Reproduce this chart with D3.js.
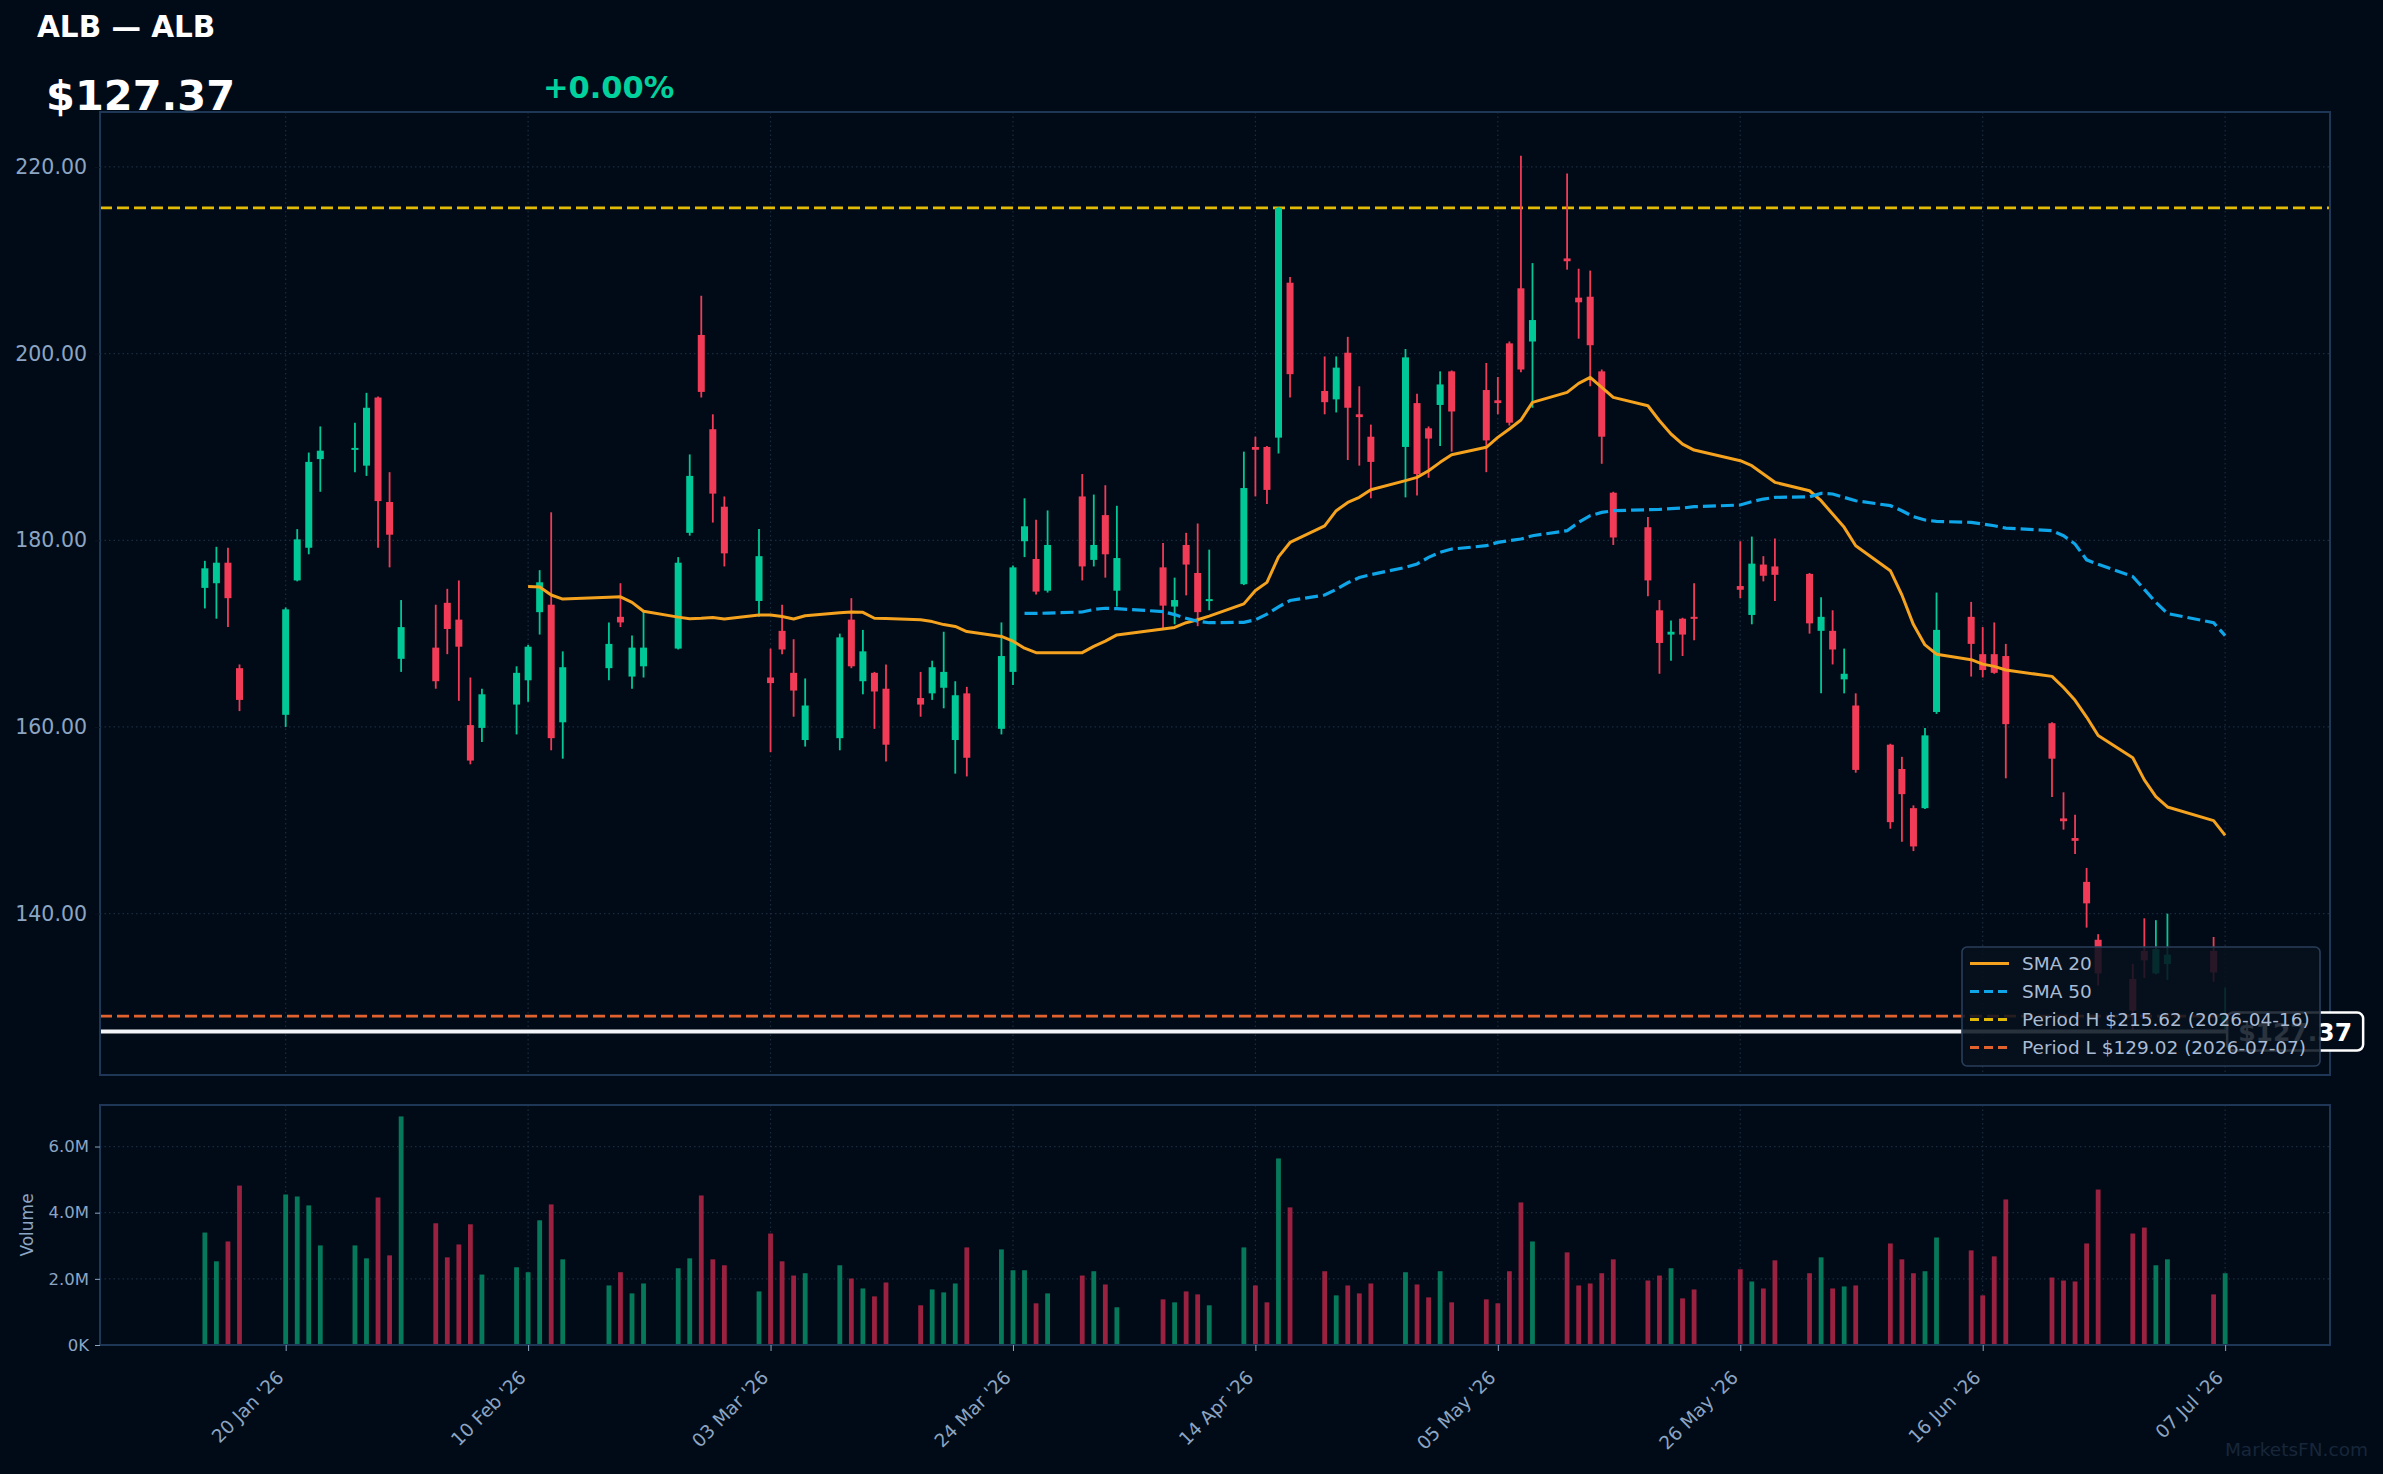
<!DOCTYPE html>
<html>
<head>
<meta charset="utf-8">
<script src="https://cdnjs.cloudflare.com/ajax/libs/d3/7.8.5/d3.min.js"></script>
<style>
  body { margin: 0; background: #010b17; }
  svg { display: block; font-family: 'DejaVu Sans', sans-serif; }
</style>
</head>
<body>
<svg id="chart"></svg>
<script>
const dates = [
  '2026-01-13','2026-01-14','2026-01-15','2026-01-16',
  '2026-01-20','2026-01-21','2026-01-22','2026-01-23',
  '2026-01-26','2026-01-27','2026-01-28','2026-01-29','2026-01-30',
  '2026-02-02','2026-02-03','2026-02-04','2026-02-05','2026-02-06',
  '2026-02-09','2026-02-10','2026-02-11','2026-02-12','2026-02-13',
  '2026-02-17','2026-02-18','2026-02-19','2026-02-20',
  '2026-02-23','2026-02-24','2026-02-25','2026-02-26','2026-02-27',
  '2026-03-02','2026-03-03','2026-03-04','2026-03-05','2026-03-06',
  '2026-03-09','2026-03-10','2026-03-11','2026-03-12','2026-03-13',
  '2026-03-16','2026-03-17','2026-03-18','2026-03-19','2026-03-20',
  '2026-03-23','2026-03-24','2026-03-25','2026-03-26','2026-03-27',
  '2026-03-30','2026-03-31',
  '2026-04-01','2026-04-02',
  '2026-04-06','2026-04-07','2026-04-08','2026-04-09','2026-04-10',
  '2026-04-13','2026-04-14','2026-04-15','2026-04-16','2026-04-17',
  '2026-04-20','2026-04-21','2026-04-22','2026-04-23','2026-04-24',
  '2026-04-27','2026-04-28','2026-04-29','2026-04-30',
  '2026-05-01',
  '2026-05-04','2026-05-05','2026-05-06','2026-05-07','2026-05-08',
  '2026-05-11','2026-05-12','2026-05-13','2026-05-14','2026-05-15',
  '2026-05-18','2026-05-19','2026-05-20','2026-05-21','2026-05-22',
  '2026-05-26','2026-05-27','2026-05-28','2026-05-29',
  '2026-06-01','2026-06-02','2026-06-03','2026-06-04','2026-06-05',
  '2026-06-08','2026-06-09','2026-06-10','2026-06-11','2026-06-12',
  '2026-06-15','2026-06-16','2026-06-17','2026-06-18',
  '2026-06-22','2026-06-23','2026-06-24','2026-06-25','2026-06-26',
  '2026-06-29','2026-06-30',
  '2026-07-01','2026-07-02','2026-07-06','2026-07-07'
];

const opens = [
  174.9,175.4,177.6,166.3,
  161.3,175.7,179.2,188.7,
  189.8,188.0,195.3,184.1,167.3,
  168.5,173.3,171.5,160.2,159.9,
  162.4,165.0,172.3,173.1,160.5,
  166.3,171.8,165.4,166.5,
  168.4,180.8,202.0,191.9,183.6,
  173.5,165.3,170.3,165.8,158.6,
  158.8,171.5,164.9,165.8,164.1,
  163.1,163.6,164.2,158.6,163.6,
  159.8,165.9,179.9,178.0,174.6,
  184.7,177.9,
  182.7,174.6,
  177.1,172.9,179.5,176.5,173.5,
  175.3,190.0,190.0,191.0,207.6,
  196.0,195.1,200.1,193.5,191.1,
  190.0,194.7,192.0,194.5,
  198.1,
  196.1,195.0,201.1,207.0,201.3,
  210.2,206.0,206.1,198.1,185.1,
  181.4,172.5,169.9,171.6,171.8,
  175.1,172.0,177.4,177.2,
  176.4,170.3,170.3,165.1,162.3,
  158.1,155.5,151.3,151.3,161.6,
  171.8,167.8,167.8,167.6,
  160.4,150.2,148.1,143.4,137.2,
  133.0,136.0,
  133.6,134.6,136.0,128.1
];

const highs = [
  177.8,179.3,179.2,166.7,
  172.8,181.2,189.4,192.2,
  192.6,195.8,195.4,187.3,173.6,
  173.1,174.8,175.7,165.3,164.1,
  166.5,168.8,176.8,183.0,168.1,
  171.2,175.4,169.8,172.4,
  178.2,189.2,206.2,193.5,184.7,
  181.2,168.4,173.1,169.4,165.2,
  170.0,173.8,170.4,165.9,166.7,
  165.9,167.1,170.2,164.9,164.3,
  171.2,177.3,184.5,182.2,183.2,
  187.1,184.9,
  185.9,183.7,
  179.7,176.0,180.8,181.8,179.0,
  189.5,191.1,190.1,215.7,208.2,
  199.7,199.7,201.8,196.5,192.4,
  200.5,195.7,192.2,198.1,
  198.2,
  199.0,197.5,201.3,221.2,209.7,
  219.3,209.1,208.9,198.3,185.2,
  182.5,173.6,171.4,171.7,175.4,
  179.9,180.4,178.3,180.2,
  176.5,173.9,172.5,168.4,163.6,
  158.2,156.8,151.6,159.9,174.4,
  173.4,170.7,171.2,168.9,
  160.5,153.0,150.6,144.9,137.8,
  134.6,139.5,
  139.3,140.0,137.5,132.1
];

const lows = [
  172.7,171.6,170.7,161.7,
  160.0,175.6,178.5,185.2,
  187.3,186.9,179.2,177.1,165.9,
  164.1,167.8,162.8,156.0,158.4,
  159.2,162.7,169.9,157.5,156.6,
  165.0,170.7,164.1,165.3,
  168.3,180.5,195.3,181.9,177.2,
  171.8,157.3,167.8,161.1,157.9,
  157.5,166.3,163.5,159.8,156.3,
  161.1,162.9,162.0,155.0,154.7,
  159.2,164.5,178.2,174.2,174.4,
  175.7,177.2,
  176.0,172.9,
  170.6,171.0,174.1,170.8,172.5,
  175.2,184.7,183.9,189.3,195.3,
  193.5,193.7,188.6,188.0,184.5,
  184.6,184.8,186.7,190.1,
  189.5,
  187.3,193.5,192.3,198.0,194.2,
  209.0,201.6,196.5,188.2,179.5,
  174.0,165.7,167.1,167.6,169.3,
  173.8,171.0,175.6,173.5,
  170.0,163.6,166.7,163.6,155.1,
  149.1,147.7,146.7,151.2,161.4,
  165.4,165.3,165.7,154.5,
  152.5,149.0,146.4,138.5,132.3,
  127.5,133.1,
  133.5,132.9,132.7,127.4
];

const closes = [
  177.0,177.6,173.8,162.9,
  172.6,180.1,188.4,189.6,
  189.9,194.2,184.2,180.6,170.7,
  164.9,170.5,168.6,156.4,163.5,
  165.8,168.6,175.5,158.8,166.4,
  168.9,171.2,168.5,168.5,
  177.6,186.9,195.9,185.0,178.6,
  178.3,164.7,168.3,163.9,162.3,
  169.6,166.5,168.1,163.8,158.1,
  162.4,166.4,165.9,163.4,156.7,
  167.6,177.1,181.5,174.5,179.5,
  177.2,179.5,
  178.5,178.1,
  173.0,173.6,177.4,172.3,173.7,
  185.6,189.7,185.4,215.62,197.8,
  194.8,198.5,194.2,193.2,188.4,
  199.6,187.1,190.9,196.7,
  193.8,
  190.7,194.7,192.6,198.3,203.6,
  209.9,205.5,200.9,191.1,180.3,
  175.7,169.0,170.2,169.9,171.6,
  174.7,177.5,176.2,176.3,
  171.1,171.8,168.3,165.7,155.4,
  149.8,152.8,147.2,159.1,170.4,
  168.9,166.1,165.8,160.3,
  156.6,149.9,147.8,141.1,133.6,
  129.6,135.0,
  136.2,135.6,133.7,129.02
];

// volume in millions
const volumes = [
  3.40,2.53,3.13,4.82,
  4.55,4.49,4.22,3.01,
  3.01,2.62,4.46,2.71,6.91,
  3.68,2.65,3.04,3.65,2.13,
  2.35,2.20,3.77,4.25,2.59,
  1.80,2.20,1.56,1.86,
  2.32,2.62,4.52,2.59,2.41,
  1.62,3.37,2.53,2.10,2.17,
  2.41,2.01,1.71,1.47,1.89,
  1.20,1.68,1.59,1.86,2.95,
  2.89,2.26,2.26,1.26,1.56,
  2.10,2.23,
  1.83,1.14,
  1.38,1.29,1.62,1.53,1.20,
  2.95,1.80,1.29,5.64,4.16,
  2.23,1.50,1.80,1.56,1.86,
  2.20,1.83,1.44,2.23,
  1.29,
  1.38,1.26,2.23,4.31,3.13,
  2.80,1.80,1.86,2.17,2.59,
  1.95,2.10,2.32,1.41,1.68,
  2.29,1.92,1.71,2.56,
  2.17,2.65,1.71,1.77,1.80,
  3.07,2.59,2.17,2.23,3.25,
  2.86,1.50,2.68,4.40,
  2.04,1.95,1.92,3.07,4.70,
  3.37,3.55,
  2.41,2.59,1.53,2.17
];

// SMA 20 from 2026-02-10, SMA 50 from 2026-03-25
const sma20Start = 19;
const sma20 = [
  175.05,175.0,174.14,173.7,
  173.9,173.94,173.35,172.4,
  171.77,171.6,171.65,171.73,171.57,
  172.0,172.0,171.84,171.57,171.92,
  172.24,172.32,172.28,171.65,171.61,
  171.49,171.29,170.97,170.77,170.22,
  169.7,169.19,168.44,167.96,167.96,
  167.96,168.63,
  169.19,169.86,
  170.5,170.66,171.17,171.49,171.88,
  173.19,174.62,175.49,178.23,179.77,
  181.55,183.17,184.06,184.6,185.42,
  186.39,186.74,187.46,188.35,
  189.17,
  189.96,191.03,191.92,192.89,194.78,
  195.85,196.81,197.46,196.39,195.31,
  194.42,192.81,191.39,190.31,189.67,
  188.53,187.99,187.1,186.21,
  185.31,184.24,182.81,181.39,179.42,
  176.74,174.14,170.97,168.79,167.8,
  167.21,166.73,166.49,166.1,
  165.42,164.23,162.85,161.06,159.08,
  156.7,154.33,
  152.54,151.43,149.97,148.38
];
const sma50Start = 49;
const sma50 = [
  172.16,172.16,172.2,
  172.32,172.6,
  172.72,172.68,
  172.36,172.04,171.65,171.33,171.17,
  171.21,171.49,172.08,172.87,173.55,
  174.14,174.74,175.45,176.01,176.32,
  177.1,177.46,178.17,178.71,
  179.06,
  179.42,179.78,179.96,180.14,180.49,
  181.03,181.92,182.64,182.99,183.17,
  183.28,183.31,183.39,183.46,183.6,
  183.78,184.14,184.42,184.6,
  184.67,185.03,184.96,184.6,184.24,
  183.71,183.17,182.53,182.17,182.03,
  181.92,181.74,181.56,181.31,
  181.03,180.49,179.6,177.91,177.43,
  176.12,174.74,
  173.35,172.16,171.17,169.78
];

const xTickDates = ['2026-01-20','2026-02-10','2026-03-03','2026-03-24','2026-04-14','2026-05-05','2026-05-26','2026-06-16','2026-07-07'];
const priceTicks = [140, 160, 180, 200, 220];
const volTicks = [0, 2, 4, 6];

const lastPrice = 127.37;
const periodHigh = 215.62;
const periodLow = 129.02;
const legendItems = ['SMA 20', 'SMA 50', 'Period H $215.62 (2026-04-16)', 'Period L $129.02 (2026-07-07)'];

const width = 2383;
const height = 1474;
const plotL = 100;
const plotR = 2330;
const plotT = 112;
const plotB = 1075;
const volT = 1105;
const volB = 1345;

const bg = '#010b17';
const upCol = '#00c896';
const downCol = '#f23b57';
const upVol = '#07795b';
const downVol = '#9a2140';
const tickCol = '#8ca5c3';
const gridCol = '#1b2b3d';
const frameCol = '#1f3756';

const parse = d3.utcParse('%Y-%m-%d');
const bars = dates.map((d, i) => ({
  date: parse(d),
  o: opens[i], h: highs[i], l: lows[i], c: closes[i], v: volumes[i]
}));

const svg = d3.select('#chart').attr('width', width).attr('height', height);
svg.append('rect').attr('width', width).attr('height', height).attr('fill', bg);

const xScale = d3
  .scaleUtc()
  .domain([new Date('2026-01-03T22:00Z'), new Date('2026-07-16T02:00Z')])
  .range([plotL, plotR]);

const lo = d3.min(lows);
const hi = d3.max(highs);
const pad = (hi - lo) * 0.05;
const yScale = d3.scaleLinear().domain([lo - pad, hi + pad]).range([plotB, plotT]);

const vScale = d3
  .scaleLinear()
  .domain([0, d3.max(volumes) * 1.05])
  .range([volB, volT]);

const xTicks = xTickDates.map(parse);

/* grids */
const grid = svg.append('g').attr('stroke', gridCol).attr('stroke-width', 1.2).attr('stroke-dasharray', '1.5,3');
grid.selectAll('.gy').data(priceTicks).enter().append('line')
  .attr('x1', plotL).attr('x2', plotR)
  .attr('y1', d => yScale(d)).attr('y2', d => yScale(d));
grid.selectAll('.gvy').data(volTicks.slice(1)).enter().append('line')
  .attr('x1', plotL).attr('x2', plotR)
  .attr('y1', d => vScale(d)).attr('y2', d => vScale(d));
grid.selectAll('.gx').data(xTicks).enter().append('line')
  .attr('x1', d => xScale(d)).attr('x2', d => xScale(d))
  .attr('y1', plotT).attr('y2', plotB);
grid.selectAll('.gvx').data(xTicks).enter().append('line')
  .attr('x1', d => xScale(d)).attr('x2', d => xScale(d))
  .attr('y1', volT).attr('y2', volB);

/* period lines */
svg.append('line')
  .attr('x1', plotL).attr('x2', plotR)
  .attr('y1', yScale(periodHigh)).attr('y2', yScale(periodHigh))
  .attr('stroke', '#e3bb06').attr('stroke-width', 2.6).attr('stroke-dasharray', '12,5');
svg.append('line')
  .attr('x1', plotL).attr('x2', plotR)
  .attr('y1', yScale(periodLow)).attr('y2', yScale(periodLow))
  .attr('stroke', '#e2622e').attr('stroke-width', 2.6).attr('stroke-dasharray', '12,5');

/* candles */
const candles = svg.append('g');
candles.selectAll('line').data(bars).enter().append('line')
  .attr('x1', d => xScale(d.date)).attr('x2', d => xScale(d.date))
  .attr('y1', d => yScale(d.h)).attr('y2', d => yScale(d.l))
  .attr('stroke', d => (d.c >= d.o ? upCol : downCol))
  .attr('stroke-width', 1.8);
candles.selectAll('rect').data(bars).enter().append('rect')
  .attr('x', d => xScale(d.date) - 3.5)
  .attr('width', 7)
  .attr('y', d => yScale(Math.max(d.o, d.c)))
  .attr('height', d => Math.max(2, Math.abs(yScale(d.o) - yScale(d.c))))
  .attr('fill', d => (d.c >= d.o ? upCol : downCol));

/* moving averages */
const line = d3.line().x(d => xScale(d[0])).y(d => yScale(d[1]));
const sma20Pts = sma20.map((v, i) => [bars[i + sma20Start].date, v]);
const sma50Pts = sma50.map((v, i) => [bars[i + sma50Start].date, v]);
svg.append('path').attr('d', line(sma20Pts))
  .attr('fill', 'none').attr('stroke', '#f5a21f').attr('stroke-width', 3)
  .attr('stroke-linejoin', 'round');
svg.append('path').attr('d', line(sma50Pts))
  .attr('fill', 'none').attr('stroke', '#0ea5e9').attr('stroke-width', 3.2)
  .attr('stroke-dasharray', '13,5');

/* last price line */
svg.append('line')
  .attr('x1', plotL).attr('x2', plotR)
  .attr('y1', yScale(lastPrice)).attr('y2', yScale(lastPrice))
  .attr('stroke', '#f2f4f7').attr('stroke-width', 4);

/* volume */
svg.append('g').selectAll('rect').data(bars).enter().append('rect')
  .attr('x', d => xScale(d.date) - 2.4)
  .attr('width', 4.8)
  .attr('y', d => vScale(d.v))
  .attr('height', d => volB - vScale(d.v))
  .attr('fill', d => (d.c >= d.o ? upVol : downVol));

/* frames */
svg.append('rect').attr('x', plotL).attr('y', plotT)
  .attr('width', plotR - plotL).attr('height', plotB - plotT)
  .attr('fill', 'none').attr('stroke', frameCol).attr('stroke-width', 2);
svg.append('rect').attr('x', plotL).attr('y', volT)
  .attr('width', plotR - plotL).attr('height', volB - volT)
  .attr('fill', 'none').attr('stroke', frameCol).attr('stroke-width', 2);

/* Left Axis */
const leftAxis = d3.axisLeft(yScale).tickValues(priceTicks).tickFormat(d3.format('.2f')).tickSize(5).tickPadding(8);
const gy = svg.append('g').attr('transform', `translate(${plotL}, 0)`).call(leftAxis);
gy.select('.domain').remove();
gy.selectAll('line').attr('stroke', '#0b1320');
gy.selectAll('text').attr('fill', tickCol).attr('font-size', 20.5).attr('font-family', 'DejaVu Sans');

/* Volume Axis */
const volAxis = d3.axisLeft(vScale).tickValues(volTicks)
  .tickFormat(d => (d === 0 ? '0K' : d.toFixed(1) + 'M')).tickSize(5).tickPadding(6);
const gv = svg.append('g').attr('transform', `translate(${plotL}, 0)`).call(volAxis);
gv.select('.domain').remove();
gv.selectAll('line').attr('stroke', tickCol);
gv.selectAll('text').attr('fill', tickCol).attr('font-size', 16.5).attr('font-family', 'DejaVu Sans');

svg.append('text')
  .attr('transform', `translate(27, ${(volT + volB) / 2}) rotate(-90)`)
  .attr('text-anchor', 'middle').attr('dy', '0.35em')
  .attr('fill', tickCol).attr('font-size', 17)
  .text('Volume');

/* Bottom Axis */
const botAxis = d3.axisBottom(xScale).tickValues(xTicks).tickFormat(d3.utcFormat("%d %b '%y")).tickSize(6);
const gx = svg.append('g').attr('transform', `translate(0, ${volB})`).call(botAxis);
gx.select('.domain').remove();
gx.selectAll('line').attr('stroke', tickCol);
gx.selectAll('text')
  .attr('fill', tickCol).attr('font-size', 18.5).attr('font-family', 'DejaVu Sans')
  .attr('text-anchor', 'end')
  .attr('x', 0).attr('y', 0)
  .attr('dy', '0.35em')
  .attr('transform', 'translate(-6, 29) rotate(-45)');

/* price label box */
const lastX = xScale(bars[bars.length - 1].date);
const ly = yScale(lastPrice);
const lab = svg.append('g');
lab.append('rect')
  .attr('x', lastX + 2).attr('y', ly - 19).attr('width', 136).attr('height', 38)
  .attr('rx', 6).attr('fill', bg).attr('stroke', '#ffffff').attr('stroke-width', 2.5);
lab.append('text')
  .attr('x', lastX + 70).attr('y', ly).attr('dy', '0.36em')
  .attr('text-anchor', 'middle').attr('fill', '#ffffff')
  .attr('font-size', 25).attr('font-weight', 'bold')
  .text('$' + lastPrice.toFixed(2));

/* legend */
const leg = svg.append('g').attr('transform', 'translate(1962, 947)');
leg.append('rect').attr('width', 358).attr('height', 119).attr('rx', 5)
  .attr('fill', '#07111e').attr('fill-opacity', 0.86)
  .attr('stroke', '#2a3e5a').attr('stroke-width', 1.6);
const handleStyles = [
  { c: '#f5a21f', dash: null },
  { c: '#0ea5e9', dash: '9,5' },
  { c: '#e3bb06', dash: '9,5' },
  { c: '#e2622e', dash: '9,5' }
];
legendItems.forEach((t, i) => {
  const yy = 16.5 + i * 28;
  const h = leg.append('line').attr('x1', 8).attr('x2', 47).attr('y1', yy).attr('y2', yy)
    .attr('stroke', handleStyles[i].c).attr('stroke-width', 3);
  if (handleStyles[i].dash) h.attr('stroke-dasharray', handleStyles[i].dash);
  leg.append('text').attr('x', 60).attr('y', yy).attr('dy', '0.36em')
    .attr('fill', '#a9bbd3').attr('font-size', 18.5).text(t);
});

/* header */
svg.append('text').attr('x', 37).attr('y', 37)
  .attr('fill', '#ffffff').attr('font-size', 29.5).attr('font-weight', 'bold')
  .text('ALB \u2014 ALB');
svg.append('text').attr('x', 46).attr('y', 110)
  .attr('fill', '#ffffff').attr('font-size', 41.5).attr('font-weight', 'bold')
  .text('$' + lastPrice.toFixed(2));
svg.append('text').attr('x', 543).attr('y', 98)
  .attr('fill', '#00d19d').attr('font-size', 30.5).attr('font-weight', 'bold')
  .text('+0.00%');

svg.append('text').attr('x', 2368).attr('y', 1456)
  .attr('text-anchor', 'end').attr('fill', '#17263a').attr('font-size', 18.5)
  .text('MarketsFN.com');
</script>
</body>
</html>
